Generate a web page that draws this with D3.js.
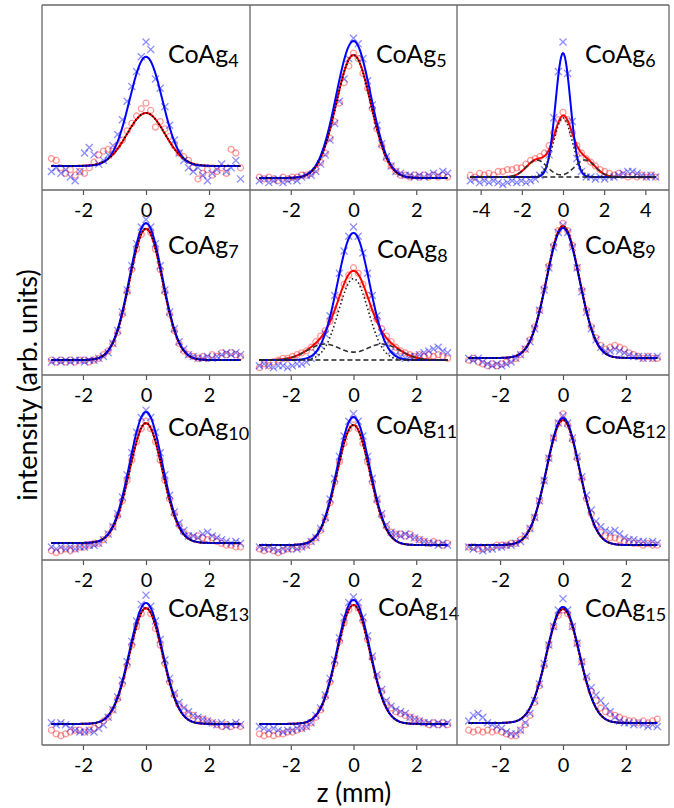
<!DOCTYPE html>
<html>
<head>
<meta charset="utf-8">
<script src="https://cdn.jsdelivr.net/npm/d3@7"></script>
<style>
body { margin: 0; background: #fff; }
text { font-family: Lato, "Open Sans", sans-serif; }
</style>
</head>
<body>
<svg width="674" height="808"></svg>
<script>
var svg = d3.select("svg");

// panel grid
var colEdges = [42, 250, 457, 669];
var rowEdges = [5, 190, 375, 560, 745];

// sample labels (subscript of CoAg)
var sizes = ["4", "5", "6", "7", "8", "9", "10", "11", "12", "13", "14", "15"];

// scan positions (mm); CoAg6 was scanned over a wider range
var zScan = d3.range(41).map(function(i) { return -3 + i * 0.15; });
var zScanWide = d3.range(41).map(function(i) { return -4.5 + i * 0.225; });

// gaussian fit parameters, intensity in % of panel height
var fitBase   = [13, 6.5, 7, 8.1, 8.1, 9.2, 9.2, 8.1, 8.1, 11.4, 11.4, 11.9];
var blueAmp   = [59, 74, 67, 74, 68.7, 70.3, 70.8, 69.2, 68.7, 65.4, 67, 62.7];
var blueWidth = [0.52, 0.55, 0.36, 0.52, 0.51, 0.52, 0.52, 0.52, 0.52, 0.52, 0.52, 0.52];
var redAmp    = [28.6, 66.5, 32, 71, 44, 71.3, 64.8, 64.9, 67.6, 62.6, 64.3, 61.6];
var redWidth  = [0.6, 0.55, 0.45, 0.52, 0.47, 0.52, 0.52, 0.52, 0.52, 0.52, 0.52, 0.52];
// side components (only CoAg6 and CoAg8)
var sideAmp   = [0, 0, 9.2, 0, 8.6, 0, 0, 0, 0, 0, 0, 0];
var sideLeft  = [0, 0, -1.27, 0, -0.92, 0, 0, 0, 0, 0, 0, 0];
var sideRight = [0, 0, 1.07, 0, 0.92, 0, 0, 0, 0, 0, 0, 0];
var sideWidth = [1, 1, 0.5, 1, 0.55, 1, 1, 1, 1, 1, 1, 1];

// measured points (blue x, red o)
var blue4  = [10,12,9,11,7,5,10,20,23,19,14,16,19,24,30,38,48,56,64,72,80,76,60,55,45,35,27,20,16,12,10,12,8,5,9,11,14,10,12,16,6];
var red4   = [17,16,12,9,11,8,10,9,12,15,19,21,22,21,24,27,32,36,40,44,47,43,34,37,33,29,24,20,18,16,12,6,9,11,8,10,12,9,22,20,12];
var blue5  = [5,6,4,5,6,4,5,6,5,7,8,8,10,14,19,27,36,48,60,71,82,79,71,59,46,35,25,18,13,10,9,8,8,7,8,7,8,9,8,10,9];
var red5   = [7,6,7,6,5,7,6,7,7,8,8,9,11,15,20,28,37,47,58,67,74,71,63,55,44,33,24,17,13,10,8,8,7,8,7,8,7,8,7,8,7];
var blue6  = [5,6,4,5,4,5,4,3,4,5,4,5,4,5,6,8,11,19,39,64,80,63,37,17,10,7,7,6,7,6,7,7,8,9,10,10,9,8,7,8,7];
var red6   = [8,7,9,8,9,8,10,10,11,11,12,12,14,16,17,18,20,24,31,38,42,38,31,24,20,17,15,13,11,10,9,8,9,8,7,8,7,8,7,8,7];
var blue7  = [7,8,7,8,7,8,8,7,8,8,9,10,12,17,24,34,46,59,71,80,84,80,71,59,46,34,25,18,14,11,10,9,9,10,9,10,11,12,11,12,11];
var red7   = [8,7,8,7,8,7,8,8,7,8,9,11,13,17,23,33,45,57,68,76,80,77,68,57,45,33,24,17,13,11,10,9,10,9,11,10,12,11,12,11,10];
var blue8  = [5,6,5,4,5,5,4,5,6,6,7,9,12,16,22,32,43,55,67,75,80,75,66,55,43,32,23,17,13,11,10,9,10,10,11,12,13,14,15,13,12];
var red8   = [4,6,5,7,8,9,9,10,11,12,13,15,18,21,24,29,35,42,49,54,58,55,49,43,36,30,25,21,18,15,13,12,11,10,11,10,11,10,11,10,9];
var blue9  = [9,8,9,7,6,5,6,5,6,7,9,11,14,18,25,35,46,58,69,77,81,77,69,58,45,34,25,19,15,13,13,14,13,12,11,10,10,9,10,9,10];
var red9   = [8,9,7,6,5,6,5,6,7,8,9,11,14,19,26,35,47,59,70,78,82,78,70,58,46,35,26,20,16,14,15,16,15,14,12,11,10,9,10,9,9];
var blue10 = [7,6,7,6,7,6,7,7,8,8,9,11,14,18,25,34,46,58,69,77,81,77,69,58,46,35,26,20,16,13,13,12,14,15,13,12,11,10,9,10,9];
var red10  = [5,4,5,6,5,6,7,7,8,9,9,11,14,18,24,32,43,54,64,71,75,71,64,54,43,33,25,19,15,13,12,13,12,11,12,10,9,8,8,7,7];
var blue11 = [7,6,7,6,5,6,6,7,6,7,8,10,12,17,23,33,44,56,67,75,79,75,67,56,44,33,25,19,15,14,13,14,13,12,11,10,9,9,8,9,8];
var red11  = [6,5,6,5,4,5,6,6,7,7,8,10,12,16,22,31,42,53,63,71,76,71,63,53,42,32,24,18,15,14,14,13,14,12,11,10,9,10,9,8,9];
var blue12 = [7,6,7,5,6,6,7,7,8,8,9,10,13,17,23,32,43,55,66,74,78,74,66,56,45,35,27,21,18,16,15,16,14,12,11,11,10,10,9,10,9];
var red12  = [7,7,6,6,7,7,8,8,8,9,9,11,13,17,23,32,43,55,66,74,79,73,65,55,44,33,25,19,15,13,12,12,11,10,10,9,9,8,9,8,8];
var blue13 = [12,11,12,11,9,8,7,7,8,7,9,11,15,19,26,35,45,56,67,76,81,75,67,57,46,36,28,23,20,18,16,15,14,13,12,11,12,10,11,12,11];
var red13  = [8,6,5,6,7,8,8,7,8,9,11,13,15,19,25,33,43,54,64,71,75,71,63,54,44,34,27,22,19,17,16,14,14,13,12,11,10,11,10,11,10];
var blue14 = [10,9,8,9,8,7,8,8,9,9,10,12,16,20,27,36,46,58,69,77,80,77,69,59,48,38,30,24,21,19,18,17,15,14,13,12,12,11,12,11,12];
var red14  = [6,5,6,5,6,6,7,7,8,9,10,12,15,19,26,34,44,56,66,73,77,74,67,57,47,37,29,23,20,18,17,16,15,14,13,12,11,12,11,12,11];
var blue15 = [13,16,17,15,12,11,10,9,7,6,6,8,12,17,24,33,44,54,64,73,79,73,64,55,45,37,31,27,24,21,18,15,13,12,12,11,12,11,10,11,10];
var red15  = [8,7,8,7,8,7,8,7,6,5,5,8,11,16,23,32,43,54,64,70,73,71,64,55,45,36,29,24,20,18,17,16,15,14,13,13,12,13,12,13,14];

var blueSets = [blue4, blue5, blue6, blue7, blue8, blue9, blue10, blue11, blue12, blue13, blue14, blue15];
var redSets  = [red4, red5, red6, red7, red8, red9, red10, red11, red12, red13, red14, red15];

var ticksNormal = [-2, 0, 2];
var ticksWide = [-4, -2, 0, 2, 4];

// label placement inside each panel
var labelDx = [126, 126, 128, 126, 127, 128, 126, 126, 128, 126, 128, 128];
var labelDy = [58, 58, 58, 64, 68, 64, 61, 59, 59, 57, 56, 57];

function gauss(z, a, c, s) {
    return a * Math.exp(-(z - c) * (z - c) / (2 * s * s));
}

var blueSym = d3.symbol().type(d3.symbolTimes || d3.symbolCross).size(34);
var redSym = d3.symbol().type(d3.symbolCircle).size(28);

sizes.forEach(function(label, i) {
    var col = i % 3, row = Math.floor(i / 3);
    var wide = (i === 2);
    var half = wide ? 5.15 : (col === 2 ? 3.37 : 3.3);
    var zs = wide ? zScanWide : zScan;

    var x = d3.scaleLinear()
        .domain([-half, half])
        .range([colEdges[col], colEdges[col + 1]]);
    var y = d3.scaleLinear()
        .domain([0, 100])
        .range([rowEdges[row + 1], rowEdges[row]]);

    var g = svg.append("g").attr("class", "panel");

    // red circles
    g.append("g").selectAll("path")
      .data(redSets[i])
      .enter().append("path")
        .attr("d", redSym)
        .attr("transform", function(d, k) { return "translate(" + x(zs[k]) + "," + y(d) + ")"; })
        .attr("fill", "none")
        .attr("stroke", "#ff2020")
        .attr("stroke-width", 1.3)
        .attr("opacity", 0.45);

    // blue crosses
    g.append("g").selectAll("path")
      .data(blueSets[i])
      .enter().append("path")
        .attr("d", blueSym)
        .attr("transform", function(d, k) { return "translate(" + x(zs[k]) + "," + y(d) + ")"; })
        .attr("fill", "none")
        .attr("stroke", "#2020ff")
        .attr("stroke-width", 1.3)
        .attr("opacity", 0.5);

    // fits
    var zFine = d3.range(201).map(function(k) { return zs[0] + k * (zs[40] - zs[0]) / 200; });
    var b = fitBase[i];
    var line = d3.line()
        .x(function(d) { return x(d[0]); })
        .y(function(d) { return y(d[1]); });

    var blueFit = zFine.map(function(z) { return [z, b + gauss(z, blueAmp[i], 0, blueWidth[i])]; });
    var central = zFine.map(function(z) { return [z, b + gauss(z, redAmp[i], 0, redWidth[i])]; });
    var sides = zFine.map(function(z) {
        return [z, b + gauss(z, sideAmp[i], sideLeft[i], sideWidth[i]) + gauss(z, sideAmp[i], sideRight[i], sideWidth[i])];
    });
    var redFit = zFine.map(function(z, k) { return [z, central[k][1] + sides[k][1] - b]; });

    g.append("path").datum(redFit)
        .attr("d", line).attr("fill", "none")
        .attr("stroke", "#ff0000").attr("stroke-width", 2);
    g.append("path").datum(blueFit)
        .attr("d", line).attr("fill", "none")
        .attr("stroke", "#0000ff").attr("stroke-width", 2);

    if (sideAmp[i] > 0) {
        // decomposition: central peak dotted, side peaks and baseline dashed
        g.append("path").datum(central)
            .attr("d", line).attr("fill", "none")
            .attr("stroke", "#222").attr("stroke-width", 1.6)
            .attr("stroke-dasharray", "1.5,2.5");
        g.append("path").datum(sides)
            .attr("d", line).attr("fill", "none")
            .attr("stroke", "#333").attr("stroke-width", 1.6)
            .attr("stroke-dasharray", "5,3");
        g.append("path").datum([[zs[0], b], [zs[40], b]])
            .attr("d", line).attr("fill", "none")
            .attr("stroke", "#222").attr("stroke-width", 1.6)
            .attr("stroke-dasharray", "5,3");
    } else {
        g.append("path").datum(redFit)
            .attr("d", line).attr("fill", "none")
            .attr("stroke", "#000").attr("stroke-width", 1.8)
            .attr("stroke-dasharray", "1.2,2.2");
    }

    // x axis under the panel
    var ax = svg.append("g")
        .attr("transform", "translate(0," + rowEdges[row + 1] + ")")
        .call(d3.axisBottom(x)
            .tickValues(wide ? ticksWide : ticksNormal)
            .tickSize(5)
            .tickPadding(8)
            .tickFormat(function(d) { return d < 0 ? "-" + Math.abs(d) : d; }));
    ax.select(".domain").remove();
    ax.selectAll(".tick line").attr("stroke", "#555").attr("stroke-width", 1.2);
    ax.selectAll(".tick text")
        .attr("fill", "#000")
        .style("font-family", "Lato, 'Open Sans', sans-serif")
        .style("font-size", "20px");

    // sample name
    var t = g.append("text")
        .attr("x", colEdges[col] + labelDx[i])
        .attr("y", rowEdges[row] + labelDy[i])
        .attr("font-size", 25)
        .attr("fill", "#000")
        .text("CoAg");
    t.append("tspan")
        .attr("font-size", 18)
        .attr("dy", 4)
        .text(label);
});

// frame and separators
var frame = svg.append("g")
    .attr("stroke", "#666")
    .attr("stroke-width", 1.3);
rowEdges.forEach(function(yy) {
    frame.append("line")
        .attr("x1", colEdges[0]).attr("x2", colEdges[3])
        .attr("y1", yy).attr("y2", yy);
});
colEdges.forEach(function(xx) {
    frame.append("line")
        .attr("x1", xx).attr("x2", xx)
        .attr("y1", rowEdges[0]).attr("y2", rowEdges[4]);
});

// axis titles
svg.append("text")
    .attr("x", 354)
    .attr("y", 802)
    .attr("text-anchor", "middle")
    .attr("font-size", 26)
    .text("z (mm)");

svg.append("text")
    .attr("transform", "translate(37,385) rotate(-90)")
    .attr("text-anchor", "middle")
    .attr("font-size", 27)
    .text("intensity (arb. units)");
</script>
</body>
</html>
